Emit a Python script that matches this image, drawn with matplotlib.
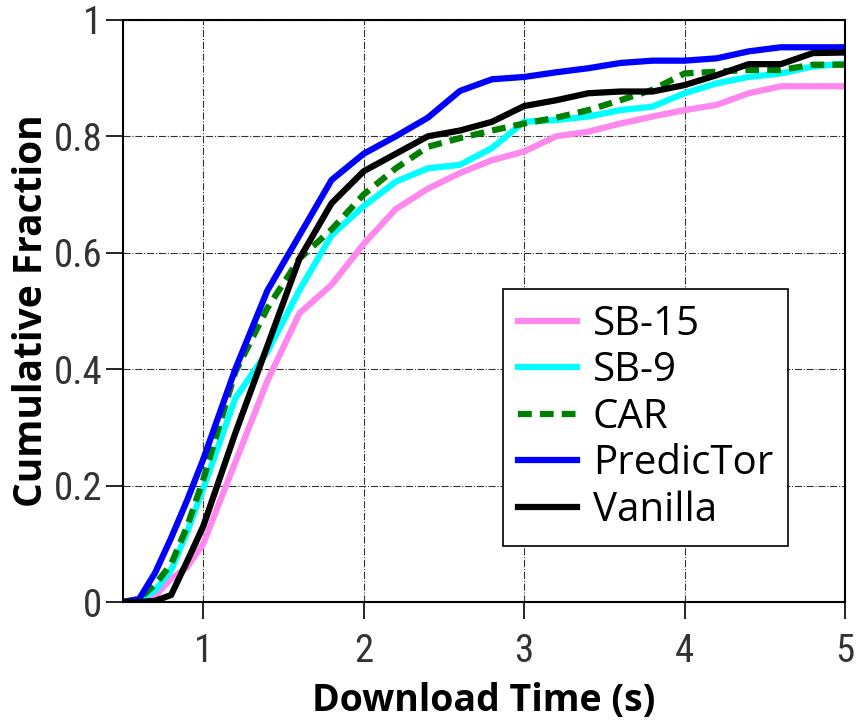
import matplotlib
matplotlib.use("Agg")
import matplotlib.pyplot as plt
from matplotlib import font_manager

x = [0.5, 0.6, 0.7, 0.8, 0.9, 1.0, 1.2, 1.4, 1.6, 1.8, 2.0, 2.2, 2.4, 2.6, 2.8,
     3.0, 3.2, 3.4, 3.6, 3.8, 4.0, 4.2, 4.4, 4.6, 4.8, 5.0]

sb15 = [0, 0, 0.01, 0.04, 0.06, 0.10, 0.24, 0.38, 0.496, 0.545, 0.615, 0.675, 0.71,
        0.737, 0.759, 0.774, 0.80, 0.808, 0.822, 0.834, 0.845, 0.854, 0.874, 0.886,
        0.886, 0.886]
sb9 = [0, 0.003, 0.02, 0.055, 0.12, 0.195, 0.35, 0.43, 0.536, 0.63, 0.68, 0.722,
       0.745, 0.751, 0.78, 0.825, 0.828, 0.834, 0.845, 0.851, 0.874, 0.891, 0.902,
       0.908, 0.92, 0.925]
car = [0, 0.005, 0.03, 0.065, 0.13, 0.21, 0.395, 0.505, 0.59, 0.64, 0.70, 0.745,
       0.782, 0.797, 0.81, 0.822, 0.832, 0.845, 0.862, 0.88, 0.908, 0.911, 0.914,
       0.914, 0.923, 0.923]
predictor = [0, 0.005, 0.05, 0.11, 0.175, 0.245, 0.40, 0.535, 0.63, 0.725, 0.77,
             0.80, 0.832, 0.878, 0.898, 0.902, 0.91, 0.917, 0.926, 0.93, 0.93, 0.934,
             0.946, 0.953, 0.953, 0.953]
vanilla = [0, 0, 0.002, 0.012, 0.07, 0.13, 0.29, 0.44, 0.59, 0.685, 0.74, 0.77, 0.80,
           0.81, 0.825, 0.852, 0.862, 0.874, 0.877, 0.877, 0.888, 0.905, 0.924, 0.924,
           0.943, 0.944]

labels = ["SB-15", "SB-9", "CAR", "PredicTor", "Vanilla"]
xticks = [1, 2, 3, 4, 5]
yticks = [0, 0.2, 0.4, 0.6, 0.8, 1.0]
yticklabels = ["0", "0.2", "0.4", "0.6", "0.8", "1"]

installed = {f.name for f in font_manager.fontManager.ttflist}
cond = [f for f in ["Ubuntu Condensed", "Roboto Condensed", "Liberation Sans Narrow",
                    "DejaVu Sans Condensed", "Open Sans Condensed", "Noto Sans Condensed"]
        if f in installed]
tick_family = (cond[:1] or ["Noto Sans"]) + ["DejaVu Sans"]
main_family = ["Open Sans", "DejaVu Sans"]

W, H = 857, 724
fig = plt.figure(figsize=(W / 100, H / 100), dpi=100)
ax = fig.add_axes([0.1435, 0.1685, 0.8425, 0.804])

lw = 4.5
ax.plot(x, sb15, color="#FF88EE", lw=lw, label=labels[0])
ax.plot(x, sb9, color="#00FFFF", lw=lw, label=labels[1])
ax.plot(x, car, color="#008000", lw=lw, ls=(0, (2.2, 1.3)), label=labels[2])
ax.plot(x, predictor, color="#0000FF", lw=lw, label=labels[3])
ax.plot(x, vanilla, color="black", lw=lw, label=labels[4])

ax.set_xlim(0.5, 5)
ax.set_ylim(0, 1)
ax.set_xticks(xticks)
ax.set_xticklabels([str(t) for t in xticks])
ax.set_yticks(yticks)
ax.set_yticklabels(yticklabels)

for lab in ax.get_xticklabels() + ax.get_yticklabels():
    lab.set_fontfamily(tick_family)
    lab.set_fontsize(28)
    lab.set_color("#333333")

ax.tick_params(direction="out", length=12, width=1.2)
ax.tick_params(axis="y", pad=3)
ax.tick_params(axis="x", pad=10)
ax.grid(True, color="#333333", ls="-.", lw=0.8)
for s in ax.spines.values():
    s.set_linewidth(1.5)

ax.set_xlabel("Download Time (s)", fontsize=27, fontweight="bold",
              family=main_family, labelpad=9)
ax.set_ylabel("Cumulative Fraction", fontsize=28, fontweight="bold",
              family=main_family)
ax.yaxis.set_label_coords(-0.1, 0.5)

leg = ax.legend(loc="upper left", bbox_to_anchor=(503 / W, 1 - 289 / H),
                bbox_transform=fig.transFigure, fancybox=False,
                framealpha=1, edgecolor="black", handlelength=1.45,
                prop=dict(family=main_family, size=29),
                borderpad=0.38, labelspacing=0.15, handletextpad=0.4,
                borderaxespad=0)
leg.get_frame().set_linewidth(1.2)

fig.savefig("out.png", dpi=100)
